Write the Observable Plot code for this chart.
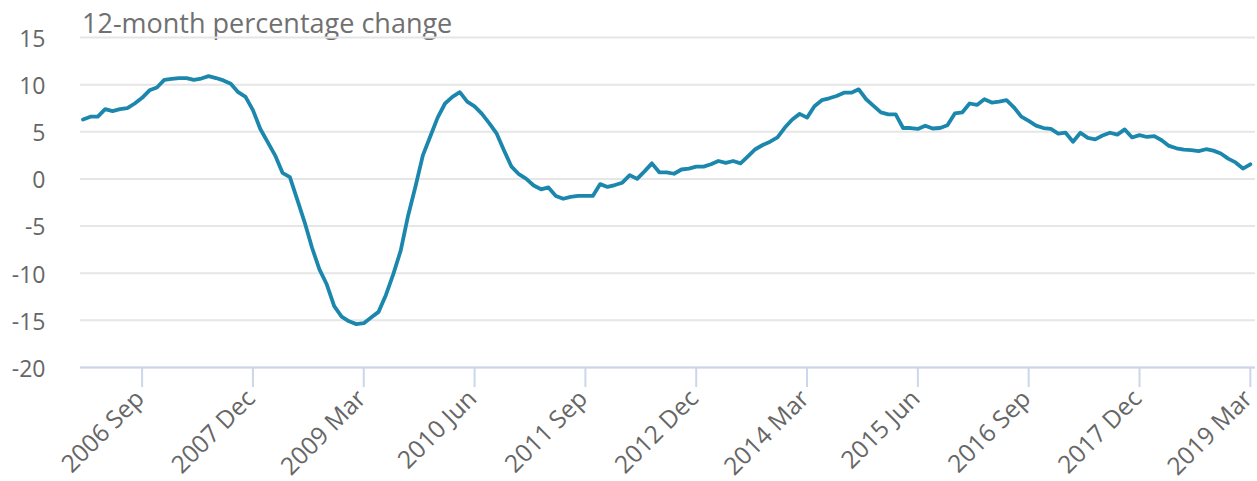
<!DOCTYPE html>
<html><head><meta charset="utf-8">
<script src="https://cdn.jsdelivr.net/npm/d3@7"></script>
<script src="https://cdn.jsdelivr.net/npm/@observablehq/plot@0.6"></script>
<style>
body{margin:0;background:#fff;}
#chart{position:relative;width:1257px;height:481px;font-family:"Open Sans",sans-serif;}
#title{position:absolute;left:82px;top:9px;font-size:27px;color:#707070;line-height:1;white-space:nowrap;}
#chart svg{position:absolute;left:0;top:0;}
</style></head><body>
<div id="chart"><div id="title">12-month percentage change</div></div>
<script>
// Categories: monthly, Jan 2006 – Mar 2019
const monthNames = ["Jan","Feb","Mar","Apr","May","Jun","Jul","Aug","Sep","Oct","Nov","Dec"];
const months = d3.utcMonth.range(new Date(Date.UTC(2006,0,1)), new Date(Date.UTC(2019,3,1)));
const monthLabels = months.map(d => `${d.getUTCFullYear()} ${monthNames[d.getUTCMonth()]}`);

// 12-month percentage change
const values = [
  6.3, 6.6, 6.6, 7.4, 7.2, 7.4, 7.5, 8.0, 8.6, 9.4, 9.7, 10.5,
  10.6, 10.7, 10.7, 10.5, 10.65, 10.9, 10.7, 10.45, 10.1, 9.2, 8.7, 7.3,
  5.3, 3.9, 2.5, 0.65, 0.2, -2.2, -4.6, -7.3, -9.6, -11.2, -13.5, -14.6,
  -15.1, -15.4, -15.3, -14.7, -14.1, -12.3, -10.1, -7.6, -3.9, -0.8, 2.5, 4.5,
  6.5, 8.0, 8.7, 9.2, 8.2, 7.7, 6.9, 5.9, 4.8, 3.0, 1.3, 0.5,
  0.0, -0.7, -1.1, -0.9, -1.8, -2.1, -1.9, -1.8, -1.8, -1.8, -0.55, -0.85,
  -0.65, -0.4, 0.4, 0.0, 0.8, 1.65, 0.7, 0.7, 0.55, 1.0, 1.1, 1.3,
  1.3, 1.55, 1.9, 1.7, 1.9, 1.65, 2.4, 3.15, 3.6, 3.95, 4.4, 5.45,
  6.3, 6.9, 6.5, 7.7, 8.35, 8.55, 8.8, 9.15, 9.15, 9.5, 8.45, 7.75,
  7.05, 6.85, 6.85, 5.4, 5.4, 5.3, 5.65, 5.35, 5.4, 5.7, 6.95, 7.05,
  8.0, 7.85, 8.45, 8.1, 8.2, 8.35, 7.6, 6.6, 6.15, 5.65, 5.4, 5.3,
  4.8, 4.9, 3.95, 4.9, 4.35, 4.2, 4.6, 4.9, 4.7, 5.25, 4.4, 4.65,
  4.45, 4.55, 4.1, 3.5, 3.25, 3.1, 3.05, 2.95, 3.15, 3.0, 2.7, 2.15,
  1.75, 1.1, 1.55
];

const xTickLabels = ["2006 Sep","2007 Dec","2009 Mar","2010 Jun","2011 Sep","2012 Dec","2014 Mar","2015 Jun","2016 Sep","2017 Dec","2019 Mar"];
const yTicks = [-20, -15, -10, -5, 0, 5, 10, 15];

const data = values.map((v, i) => ({i, label: monthLabels[i], v}));
const xTickIdx = xTickLabels.map(l => monthLabels.indexOf(l));

const plot = Plot.plot({
  width: 1257, height: 481,
  marginLeft: 80, marginRight: 2, marginTop: 37, marginBottom: 114,
  style: {fontFamily: '"Open Sans", sans-serif', fontSize: "23px", color: "#666", background: "transparent", overflow: "visible"},
  x: {type: "linear", domain: [-0.34, 158.7]},
  y: {domain: [-20, 15]},
  marks: [
    Plot.gridY(yTicks, {stroke: "#e6e6e6", strokeOpacity: 1, strokeWidth: 2}),
    Plot.ruleY([-20], {stroke: "#ccd6eb", strokeWidth: 2}),
    Plot.axisY(yTicks, {tickSize: 0, tickPadding: 35, fontSize: 23, fill: "#666", dy: 2, label: null, tickFormat: d => String(d)}),
    Plot.axisX(xTickIdx, {tickSize: 20, stroke: "#ccd6eb", strokeWidth: 2, strokeOpacity: 1, tickFormat: () => "", label: null}),
    Plot.axisX(xTickIdx, {tickSize: 20, tickRotate: -45, tickPadding: 7, fontSize: 24.5, fill: "#666", stroke: "none", dx: -2, label: null, tickFormat: i => monthLabels[i]}),
    Plot.lineY(data, {x: "i", y: "v", stroke: "#1b87ad", strokeWidth: 3.8, strokeLinejoin: "round", strokeLinecap: "round"})
  ]
});
document.getElementById("chart").appendChild(plot);
</script>
</body></html>
